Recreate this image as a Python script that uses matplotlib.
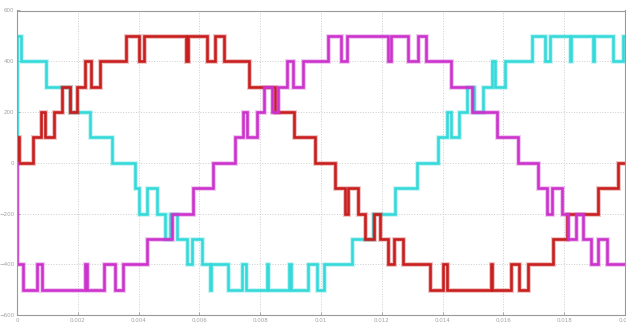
import numpy as np
import matplotlib
matplotlib.use("Agg")
import matplotlib.pyplot as plt

# switching instants (ms) and output levels (V)
t_red = [0, 0.03, 0.08, 0.53, 0.78, 0.92, 1.22, 1.48, 1.74, 1.97,
         2.24, 2.42, 2.73, 3.59, 4.02, 4.18, 5.57, 5.61, 6.24, 6.51,
         6.81, 7.64, 8.49, 9.12, 9.80, 10.46, 10.79, 10.90, 11.23, 11.45,
         11.75, 11.94, 12.21, 12.40, 12.71, 13.59, 14.02, 14.13, 15.59, 15.63,
         16.24, 16.52, 16.82, 17.62, 18.08, 19.12, 19.78, 20.0]
v_red = [0, 100, 0, 100, 200, 100, 200, 300, 200, 300,
         400, 300, 400, 500, 400, 500, 400, 500, 400, 500,
         400, 300, 200, 100, 0, -100, -200, -100, -200, -300,
         -200, -300, -400, -300, -400, -500, -400, -500, -400, -500,
         -400, -500, -400, -300, -200, -100, 0, 0]

t_cyan = [0, 0, 0.12, 0.95, 1.74, 2.40, 3.13, 3.88, 4.02, 4.27, 4.60,
          4.87, 5.03, 5.25, 5.58, 5.75, 6.07, 6.35, 6.39, 6.95, 7.39,
          7.53, 8.21, 8.25, 8.96, 9.00, 9.58, 9.86, 10.10, 11.01, 11.72,
          12.43, 13.15, 13.86, 14.13, 14.27, 14.55, 14.79, 15.03, 15.34, 15.61,
          15.72, 16.05, 16.93, 17.37, 17.53, 18.19, 18.23, 18.94, 18.98, 19.60,
          19.95, 20.0]
v_cyan = [0, 500, 400, 300, 200, 100, 0, -100, -200, -100, -200,
          -300, -200, -300, -400, -300, -400, -500, -400, -500, -400,
          -500, -400, -500, -400, -500, -400, -500, -400, -300, -200,
          -100, 0, 100, 200, 100, 200, 300, 200, 300, 400,
          300, 400, 500, 400, 500, 400, 500, 400, 500, 400,
          500, 500]

t_mag = [0, 0, 0.21, 0.65, 0.81, 2.24, 2.31, 2.87, 3.22, 3.48, 4.27,
         5.09, 5.80, 6.46, 7.17, 7.42, 7.58, 7.88, 8.13, 8.38, 8.60,
         8.87, 9.09, 9.42, 10.24, 10.65, 10.85, 12.21, 12.29, 12.87, 13.20,
         13.45, 14.27, 14.97, 15.78, 16.49, 17.15, 17.44, 17.59, 17.92, 18.14,
         18.39, 18.63, 18.87, 19.12, 19.42, 20.0]
v_mag = [0, -400, -500, -400, -500, -400, -500, -400, -500, -400, -300,
         -200, -100, 0, 100, 200, 100, 200, 300, 200, 300,
         400, 300, 400, 500, 400, 500, 400, 500, 400, 500,
         400, 300, 200, 100, 0, -100, -200, -100, -200, -300,
         -200, -300, -400, -300, -400, -400]

x_ticks = [0, 0.002, 0.004, 0.006, 0.008, 0.01, 0.012, 0.014, 0.016, 0.018, 0.02]
x_labels = ['0', '0.002', '0.004', '0.006', '0.008', '0.01', '0.012', '0.014', '0.016', '0.018', '0.02']
y_ticks = [-600, -400, -200, 0, 200, 400, 600]

fig = plt.figure(figsize=(6.26, 3.25), dpi=100)
ax = fig.add_axes([17 / 626, 10 / 325, 608 / 626, 304.5 / 325])

series = [(t_cyan, v_cyan, '#35d9d9'),
          (t_red, v_red, '#c81e1e'),
          (t_mag, v_mag, '#cc33cc')]
for t, v, c in series:
    t = np.array(t) / 1000.0
    ax.step(t, v, where='post', color=c, lw=3.6, alpha=0.25, solid_joinstyle='miter')
    ax.step(t, v, where='post', color=c, lw=1.9, solid_joinstyle='miter')

ax.set_xlim(0, 0.02)
ax.set_ylim(-600, 600)
ax.set_xticks(x_ticks)
ax.set_xticklabels(x_labels)
ax.set_yticks(y_ticks)
ax.tick_params(labelsize=4, colors='#a0a0a0', length=2, width=0.6, direction='in', pad=2)
ax.grid(True, color='#cccccc', linestyle=':', linewidth=0.7)
for s in ax.spines.values():
    s.set_color('#999999')
    s.set_linewidth(0.8)

fig.savefig('out.png', dpi=100, facecolor='white')
